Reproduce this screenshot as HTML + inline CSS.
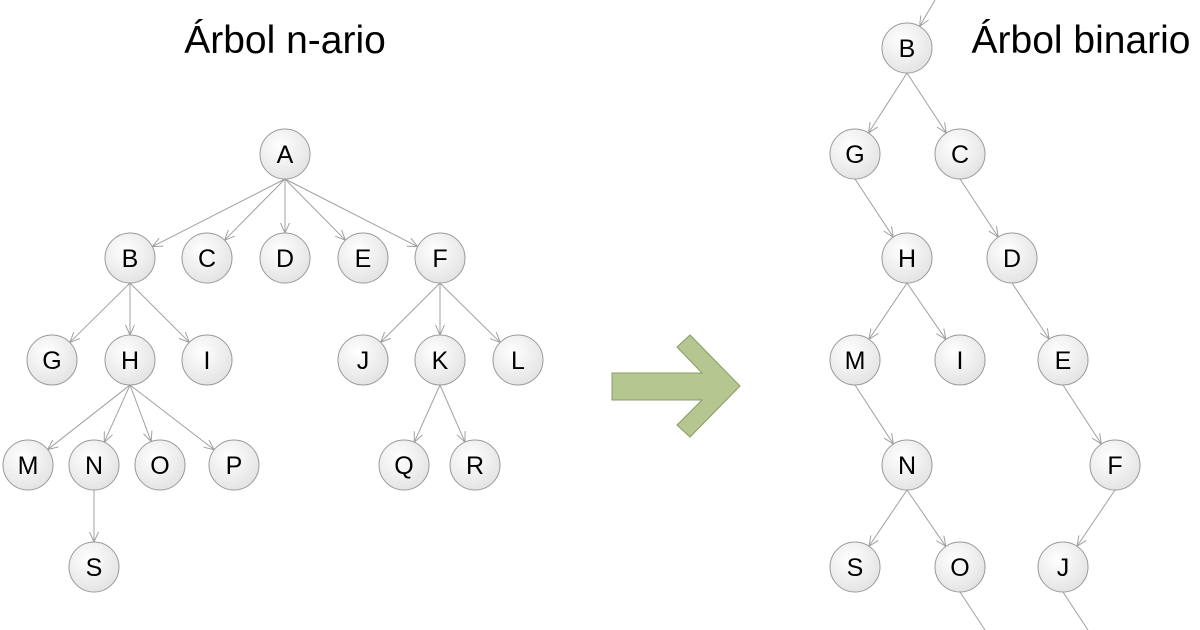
<!DOCTYPE html>
<html><head><meta charset="utf-8"><style>
html,body{margin:0;padding:0;background:#fff;width:1200px;height:630px;overflow:hidden}
svg{display:block}
text{font-family:"Liberation Sans",sans-serif}
</style></head><body>
<svg id="s" width="1200" height="630" viewBox="0 0 1200 630" xmlns="http://www.w3.org/2000/svg">
<defs>
<radialGradient id="g" cx="40%" cy="35%" r="70%">
<stop offset="0" stop-color="#ffffff"/><stop offset="1" stop-color="#e2e2e2"/>
</radialGradient>
</defs>
<text x="285" y="53" font-size="39" text-anchor="middle" fill="#000">Árbol n-ario</text>
<text x="1081" y="53" font-size="39" text-anchor="middle" fill="#000">Árbol binario</text>
<polygon points="612,373 702,373 677,347 690,335 740,386 690,437 677,425 702,400 612,400" fill="#b5c690" stroke="#8a9a68" stroke-width="1"/>
<g id="e" stroke="#a0a0a0" stroke-width="1" fill="none"></g>
<g id="n"></g>
</svg>
<script>
var N={A:[285,154],B:[130,258],C:[207,258],D:[285,258],E:[363,258],F:[440,258],G:[52,360],H:[130,360],I:[207,360],J:[363,360],K:[440,360],L:[518,360],M:[28,465],N:[94,465],O:[160,465],P:[234,465],Q:[404,465],R:[475,465],S:[94,567],
b:[907,48],g:[855,154],c:[960,154],h:[907,258],d:[1012,258],m:[855,360],i:[960,360],e:[1063,360],n:[907,465],f:[1115,465],s:[855,567],o:[960,567],j:[1063,567]};
var L={b:'B',g:'G',c:'C',h:'H',d:'D',m:'M',i:'I',e:'E',n:'N',f:'F',s:'S',o:'O',j:'J'};
var E=[['A','B'],['A','C'],['A','D'],['A','E'],['A','F'],['B','G'],['B','H'],['B','I'],['H','M'],['H','N'],['H','O'],['H','P'],['N','S'],['F','J'],['F','K'],['F','L'],['K','Q'],['K','R'],
['b','g'],['b','c'],['g','h'],['c','d'],['h','m'],['h','i'],['d','e'],['m','n'],['e','f'],['n','s'],['n','o'],['f','j']];
var R=25,eg=document.getElementById('e'),ng=document.getElementById('n'),ns='http://www.w3.org/2000/svg';
function line(x1,y1,x2,y2,arrow){
 var p=document.createElementNS(ns,'path');var d='M'+x1+','+y1+'L'+x2+','+y2;
 if(arrow){var a=Math.atan2(y2-y1,x2-x1),s=11,w=0.42;
 d+='M'+(x2-s*Math.cos(a-w))+','+(y2-s*Math.sin(a-w))+'L'+x2+','+y2+'L'+(x2-s*Math.cos(a+w))+','+(y2-s*Math.sin(a+w));}
 p.setAttribute('d',d);eg.appendChild(p);}
E.forEach(function(e){var p=N[e[0]],c=N[e[1]];var x1=p[0],y1=p[1]+R;
 var dx=x1-c[0],dy=y1-c[1],l=Math.hypot(dx,dy);line(x1,y1,c[0]+dx/l*R,c[1]+dy/l*R,true);});
(function(){var c=N.b,x1=935,y1=0,dx=x1-c[0],dy=y1-c[1],l=Math.hypot(dx,dy);line(x1,y1,c[0]+dx/l*R,c[1]+dy/l*R,true);})();
line(960,592,985,630,false);line(1063,592,1088,630,false);
for(var k in N){var p=N[k];var c=document.createElementNS(ns,'circle');
 c.setAttribute('cx',p[0]);c.setAttribute('cy',p[1]);c.setAttribute('r',R);c.setAttribute('fill','url(#g)');c.setAttribute('stroke','#9a9a9a');ng.appendChild(c);
 var t=document.createElementNS(ns,'text');t.setAttribute('x',p[0]);t.setAttribute('y',p[1]+9);t.setAttribute('text-anchor','middle');t.setAttribute('font-size','25');
 t.textContent=L[k]||k;ng.appendChild(t);}
</script>
</body></html>
